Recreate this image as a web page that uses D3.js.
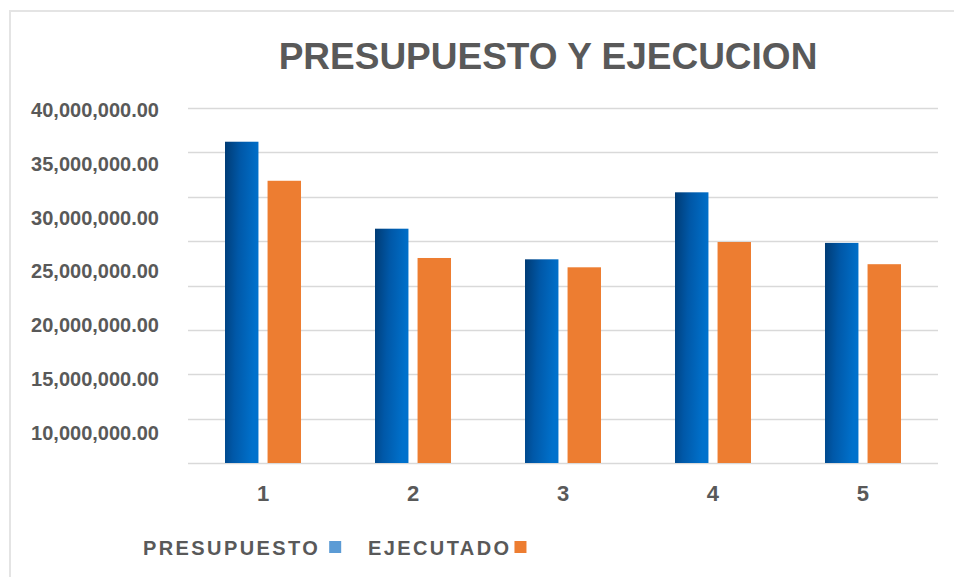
<!DOCTYPE html>
<html>
<head>
<meta charset="utf-8">
<script src="https://cdn.jsdelivr.net/npm/d3@7"></script>
<style>
  html, body { margin: 0; padding: 0; background: #fff; }
  svg { display: block; }
  text { font-family: "Liberation Sans", Arial, sans-serif; }
</style>
</head>
<body>
<svg id="chart" width="954" height="577"></svg>
<script>
const title = "PRESUPUESTO Y EJECUCION";
const categories = ["1", "2", "3", "4", "5"];
const seriesNames = ["PRESUPUESTO", "EJECUTADO"];
const presupuesto = [36200000, 26400000, 22950000, 30500000, 24800000];
const ejecutado = [31800000, 23100000, 22050000, 24900000, 22400000];
const gridValues = [0, 5000000, 10000000, 15000000, 20000000, 25000000, 30000000, 35000000, 40000000];
const tickLabels = [40000000, 35000000, 30000000, 25000000, 20000000, 15000000, 10000000];

(function () {
const svg = d3.select("#chart");
const W = 954, H = 577;
const plotLeft = 188, plotRight = 938, plotTop = 108, plotBottom = 463;

// frame
svg.append("line").attr("x1", 10).attr("x2", W).attr("y1", 11).attr("y2", 11)
  .attr("stroke", "#e4e4e4").attr("stroke-width", 2);
svg.append("line").attr("x1", 10).attr("x2", 10).attr("y1", 10).attr("y2", H)
  .attr("stroke", "#e4e4e4").attr("stroke-width", 2);

// gradient
const defs = svg.append("defs");
const grad = defs.append("linearGradient").attr("id", "blueGrad")
  .attr("x1", "0").attr("y1", "0").attr("x2", "1").attr("y2", "0.25");
grad.append("stop").attr("offset", "0%").attr("stop-color", "#003b74");
grad.append("stop").attr("offset", "45%").attr("stop-color", "#0058a8");
grad.append("stop").attr("offset", "100%").attr("stop-color", "#0071cc");

const y = d3.scaleLinear().domain([0, 40000000]).range([plotBottom, plotTop]);
const yLabel = d3.scaleLinear().domain([10000000, 40000000]).range([433, 110]);
const x0 = d3.scaleBand().domain(categories).range([plotLeft, plotRight])
  .paddingInner(0.4933).paddingOuter(0.2467);
const x1 = d3.scaleBand().domain(seriesNames).range([0, x0.bandwidth()])
  .paddingInner(0.214).paddingOuter(0);

// gridlines
svg.append("g").selectAll("line").data(gridValues).join("line")
  .attr("x1", plotLeft).attr("x2", plotRight)
  .attr("y1", d => Math.round(y(d)) + 0.5).attr("y2", d => Math.round(y(d)) + 0.5)
  .attr("stroke", "#d9d9d9").attr("stroke-width", 1.6);

// y labels
const fmt = d3.format(",.2f");
const yAxis = d3.axisLeft(yLabel).tickValues(tickLabels).tickFormat(fmt).tickSize(0);
const yg = svg.append("g").attr("transform", "translate(162,0)").call(yAxis);
yg.select(".domain").remove();
yg.selectAll("text").attr("font-size", 20).attr("font-weight", "bold")
  .attr("fill", "#595959").attr("font-family", "Liberation Sans, Arial, sans-serif");

// x labels
const xAxis = d3.axisBottom(x0).tickSize(0).tickPadding(0);
const xg = svg.append("g").attr("transform", `translate(0,${plotBottom})`).call(xAxis);
xg.select(".domain").remove();
xg.selectAll("text").attr("font-size", 22).attr("font-weight", "bold")
  .attr("fill", "#595959").attr("y", 22).attr("dy", "0.71em")
  .attr("font-family", "Liberation Sans, Arial, sans-serif");

// bars
const rows = categories.map((c, i) => ({ cat: c, vals: [
  { name: seriesNames[0], v: presupuesto[i] },
  { name: seriesNames[1], v: ejecutado[i] }
]}));
const groups = svg.append("g").selectAll("g").data(rows).join("g")
  .attr("transform", d => `translate(${x0(d.cat)},0)`);
groups.selectAll("rect").data(d => d.vals).join("rect")
  .attr("x", d => x1(d.name))
  .attr("width", x1.bandwidth())
  .attr("y", d => y(d.v))
  .attr("height", d => y(0) - y(d.v))
  .attr("fill", d => d.name === seriesNames[0] ? "url(#blueGrad)" : "#ed7d31");

// title
svg.append("text").attr("x", 548).attr("y", 69).attr("text-anchor", "middle")
  .attr("font-size", 37).attr("font-weight", "bold").attr("fill", "#595959")
  .text(title);

// legend
const legendColors = ["#5b9bd5", "#ed7d31"];
const legendX = [143, 368];
const legendGap = [9, 3];
const lg = svg.append("g");
seriesNames.forEach((n, i) => {
  const t = lg.append("text").attr("x", legendX[i]).attr("y", 555)
    .attr("font-size", 20).attr("font-weight", "bold").attr("fill", "#595959")
    .attr("letter-spacing", 2.4).text(n);
  const w = t.node().getComputedTextLength();
  lg.append("rect").attr("x", legendX[i] + w + legendGap[i]).attr("y", 541)
    .attr("width", 12).attr("height", 12).attr("fill", legendColors[i]);
});
})();
</script>
</body>
</html>
